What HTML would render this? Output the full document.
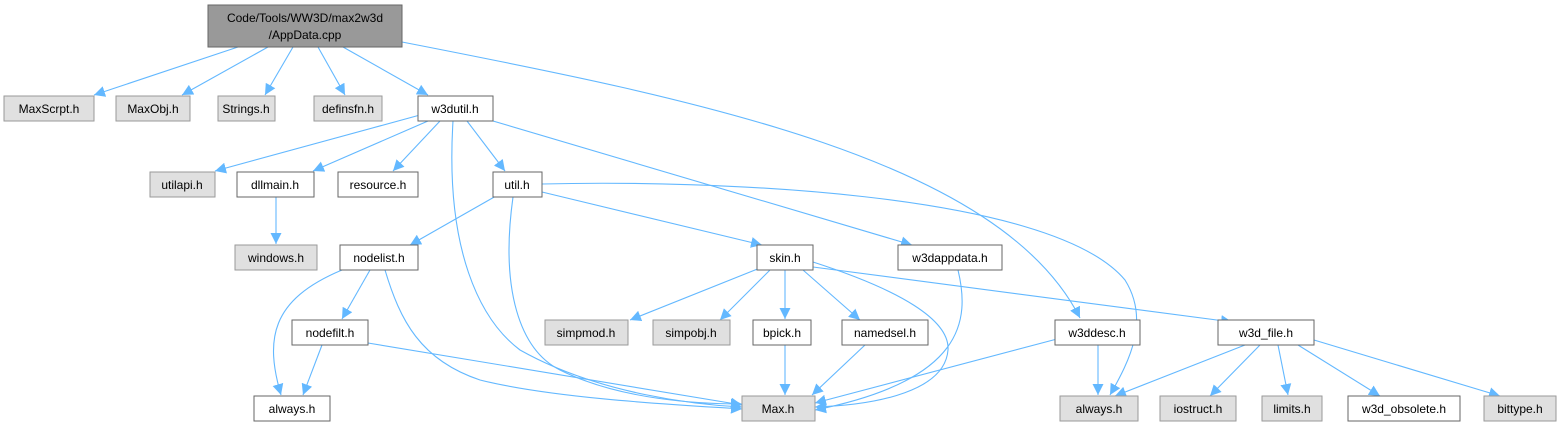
<!DOCTYPE html>
<html><head><meta charset="utf-8"><style>
html,body{margin:0;padding:0;background:#fff}
svg{display:block}
text{font-family:"Liberation Sans",sans-serif;font-size:12px;fill:#000;text-anchor:middle}
.w{fill:#fff;stroke:#666;stroke-width:1}
.g{fill:#e0e0e0;stroke:#999;stroke-width:1}
.e{fill:none;stroke:#63b8ff;stroke-width:1.1}
</style></head><body>
<svg width="1560" height="427" viewBox="0 0 1560 427" xmlns="http://www.w3.org/2000/svg">
<defs><marker id="a" viewBox="0 0 10 10" refX="10" refY="5" markerWidth="11" markerHeight="11" markerUnits="userSpaceOnUse" orient="auto"><path d="M0,0 L10,5 L0,10 z" fill="#63b8ff"/></marker></defs>
<g marker-end="url(#a)">
<path class="e" d="M238,47 L94,95"/>
<path class="e" d="M268,47 L182,95"/>
<path class="e" d="M293,47 L265,95"/>
<path class="e" d="M318,47 L345,95"/>
<path class="e" d="M343,47 L428,95"/>
<path class="e" d="M402,42 C700,100 1000,160 1080,318"/>
<path class="e" d="M420,115 L215,171"/>
<path class="e" d="M428,121 L313,171"/>
<path class="e" d="M440,121 L393,171"/>
<path class="e" d="M467,121 L505,171"/>
<path class="e" d="M453,121 C445,250 480,320 520,350 C600,395 700,405 742,407"/>
<path class="e" d="M493,121 L912,245"/>
<path class="e" d="M276,197 L276,244"/>
<path class="e" d="M496,196 L410,245"/>
<path class="e" d="M542,192 L762,245"/>
<path class="e" d="M513,197 C500,290 520,350 560,370 C620,400 700,404 742,404"/>
<path class="e" d="M542,184 C700,180 1050,190 1125,280 C1150,320 1130,360 1110,395"/>
<path class="e" d="M370,270 L342,319"/>
<path class="e" d="M342,270 C270,300 265,340 281,395"/>
<path class="e" d="M385,270 C400,320 420,360 480,380 C560,400 700,406 742,409"/>
<path class="e" d="M322,345 L303,395"/>
<path class="e" d="M368,343 L742,405"/>
<path class="e" d="M760,268 L630,320"/>
<path class="e" d="M770,270 L720,320"/>
<path class="e" d="M785,270 L785,319"/>
<path class="e" d="M803,270 L860,320"/>
<path class="e" d="M813,262 C900,290 950,320 948,350 C945,390 880,405 815,407"/>
<path class="e" d="M813,267 L1232,322"/>
<path class="e" d="M785,345 L785,395"/>
<path class="e" d="M865,345 L812,395"/>
<path class="e" d="M958,270 C970,320 965,380 815,410"/>
<path class="e" d="M1057,339 L815,403"/>
<path class="e" d="M1098,345 L1098,395"/>
<path class="e" d="M1245,345 L1115,396"/>
<path class="e" d="M1260,345 L1210,396"/>
<path class="e" d="M1278,345 L1288,395"/>
<path class="e" d="M1298,345 L1380,396"/>
<path class="e" d="M1314,340 L1500,396"/>
</g>
<rect x="208" y="5" width="194" height="42" fill="#999" stroke="#666"/>
<text x="305" y="22">Code/Tools/WW3D/max2w3d</text><text x="305" y="39">/AppData.cpp</text>
<rect class="g" x="4" y="96" width="90" height="25"/><text x="49" y="113">MaxScrpt.h</text>
<rect class="g" x="116" y="96" width="74" height="25"/><text x="153" y="113">MaxObj.h</text>
<rect class="g" x="218" y="96" width="57" height="25"/><text x="246" y="113">Strings.h</text>
<rect class="g" x="314" y="96" width="68" height="25"/><text x="348" y="113">definsfn.h</text>
<rect class="w" x="418" y="96" width="75" height="25"/><text x="455" y="113">w3dutil.h</text>
<rect class="g" x="150" y="172" width="65" height="25"/><text x="182" y="189">utilapi.h</text>
<rect class="w" x="237" y="172" width="77" height="25"/><text x="275" y="189">dllmain.h</text>
<rect class="w" x="338" y="172" width="80" height="25"/><text x="378" y="189">resource.h</text>
<rect class="w" x="493" y="172" width="49" height="25"/><text x="517" y="189">util.h</text>
<rect class="g" x="235" y="245" width="82" height="25"/><text x="276" y="262">windows.h</text>
<rect class="w" x="340" y="245" width="78" height="25"/><text x="379" y="262">nodelist.h</text>
<rect class="w" x="757" y="245" width="56" height="25"/><text x="785" y="262">skin.h</text>
<rect class="w" x="898" y="245" width="104" height="25"/><text x="950" y="262">w3dappdata.h</text>
<rect class="w" x="292" y="320" width="76" height="25"/><text x="330" y="337">nodefilt.h</text>
<rect class="g" x="545" y="320" width="83" height="25"/><text x="586" y="337">simpmod.h</text>
<rect class="g" x="653" y="320" width="77" height="25"/><text x="691" y="337">simpobj.h</text>
<rect class="w" x="753" y="320" width="58" height="25"/><text x="782" y="337">bpick.h</text>
<rect class="w" x="842" y="320" width="86" height="25"/><text x="885" y="337">namedsel.h</text>
<rect class="w" x="1055" y="320" width="85" height="25"/><text x="1097" y="337">w3ddesc.h</text>
<rect class="w" x="1218" y="320" width="96" height="25"/><text x="1266" y="337">w3d_file.h</text>
<rect class="w" x="254" y="396" width="76" height="25"/><text x="292" y="413">always.h</text>
<rect class="g" x="742" y="396" width="73" height="25"/><text x="778" y="413">Max.h</text>
<rect class="g" x="1060" y="396" width="78" height="25"/><text x="1099" y="413">always.h</text>
<rect class="g" x="1160" y="396" width="76" height="25"/><text x="1198" y="413">iostruct.h</text>
<rect class="g" x="1262" y="396" width="60" height="25"/><text x="1292" y="413">limits.h</text>
<rect class="w" x="1348" y="396" width="112" height="25"/><text x="1404" y="413">w3d_obsolete.h</text>
<rect class="g" x="1484" y="396" width="72" height="25"/><text x="1520" y="413">bittype.h</text>
</svg>
</body></html>
